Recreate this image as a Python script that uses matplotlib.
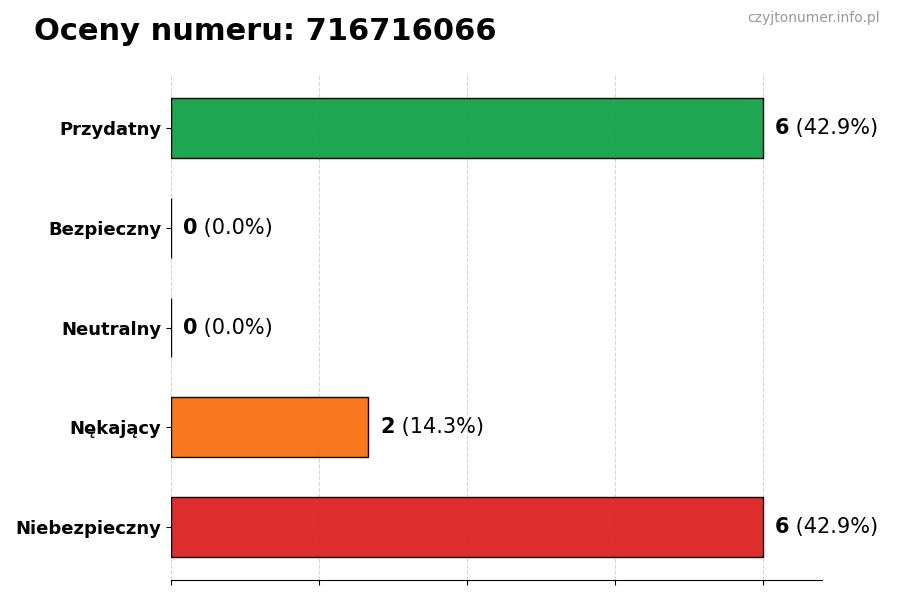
import matplotlib
matplotlib.use("Agg")
import matplotlib.pyplot as plt
import numpy as np

categories = ["Niebezpieczny", "Nękający", "Neutralny", "Bezpieczny", "Przydatny"]
counts = [6, 2, 0, 0, 6]
colors = ["#dc2626", "#f97316", "#9ca3af", "#3b82f6", "#16a34a"]
title = "Oceny numeru: 716716066"
watermark = "czyjtonumer.info.pl"

total = sum(counts)
max_val = max(counts)

fig = plt.figure(figsize=(9, 6), dpi=100)
ax = fig.add_axes([0.19, 0.0333, 0.723, 0.8417])

y = np.arange(len(categories))
ax.barh(y, counts, height=0.6, color=colors, edgecolor="black", linewidth=1, alpha=0.97, zorder=2)
ax.set_yticks(y)
ax.set_yticklabels(categories, fontsize=13, fontweight="bold")
ax.set_xlim(0, max_val * 1.1)
ax.set_xticks(np.linspace(0, max_val, 5))
ax.set_xticklabels([])
ax.grid(axis="x", linestyle="--", color="#cccccc", linewidth=0.8, zorder=0, alpha=0.8)
ax.set_axisbelow(True)
for s in ["top", "right", "left"]:
    ax.spines[s].set_visible(False)

off = max_val * 0.02
for yi, c in zip(y, counts):
    pct = c / total * 100
    t = ax.text(c + off, yi, f"{c}", fontsize=15, fontweight="bold", va="center", ha="left")
    ax.annotate(f" ({pct:.1f}%)", xy=(1, 0.5), xycoords=t, fontsize=15, va="center", ha="left")

fig.text(0.038, 0.947, title, fontsize=22, fontweight="bold", va="center", ha="left")
fig.text(0.978, 0.970, watermark, fontsize=10, color="#999999", va="center", ha="right")

fig.savefig("out.png", dpi=100)
